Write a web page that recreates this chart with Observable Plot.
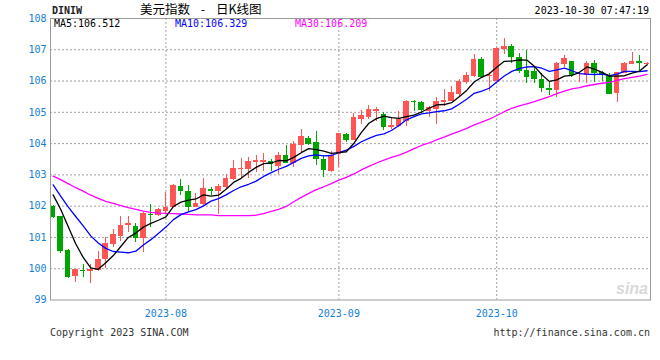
<!DOCTYPE html>
<html><head><meta charset="utf-8">
<script src="https://cdn.jsdelivr.net/npm/d3@7"></script>
<script src="https://cdn.jsdelivr.net/npm/@observablehq/plot@0.6"></script>
<style>
body{margin:0;background:#fff;}
#wrap{position:relative;width:660px;height:360px;overflow:hidden;font-family:"DejaVu Sans Mono",monospace;}
#wrap svg{position:absolute;left:0;top:0;}
.t{position:absolute;white-space:nowrap;font-size:10px;line-height:12px;}
</style></head><body><div id="wrap"></div>
<script>
const dates = [
"2023-07-11","2023-07-12","2023-07-13","2023-07-14","2023-07-17","2023-07-18","2023-07-19","2023-07-20","2023-07-21","2023-07-24","2023-07-25","2023-07-26","2023-07-27","2023-07-28","2023-07-31",
"2023-08-01","2023-08-02","2023-08-03","2023-08-04","2023-08-07","2023-08-08","2023-08-09","2023-08-10","2023-08-11","2023-08-14","2023-08-15","2023-08-16","2023-08-17","2023-08-18","2023-08-21","2023-08-22","2023-08-23","2023-08-24","2023-08-25","2023-08-28","2023-08-29","2023-08-30","2023-08-31",
"2023-09-01","2023-09-04","2023-09-05","2023-09-06","2023-09-07","2023-09-08","2023-09-11","2023-09-12","2023-09-13","2023-09-14","2023-09-15","2023-09-18","2023-09-19","2023-09-20","2023-09-21","2023-09-22","2023-09-25","2023-09-26","2023-09-27","2023-09-28","2023-09-29",
"2023-10-02","2023-10-03","2023-10-04","2023-10-05","2023-10-06","2023-10-09","2023-10-10","2023-10-11","2023-10-12","2023-10-13","2023-10-16","2023-10-17","2023-10-18","2023-10-19","2023-10-20","2023-10-23","2023-10-24","2023-10-25","2023-10-26","2023-10-27","2023-10-30"];
const open = [102.00,101.66,100.57,99.74,99.95,99.90,99.93,100.28,100.78,101.03,101.38,101.34,100.97,101.73,101.69,101.83,101.97,102.64,102.47,101.97,102.04,102.53,102.47,102.61,102.84,103.17,103.18,103.41,103.41,103.43,103.28,103.63,103.38,103.95,104.17,104.03,103.50,103.12,103.66,104.28,104.11,104.78,104.84,105.04,104.92,104.52,104.55,104.71,105.36,105.30,105.03,105.09,105.30,105.36,105.57,105.95,106.14,106.69,106.14,106.00,107.02,107.11,106.76,106.33,106.30,106.06,105.77,105.69,106.53,106.62,106.20,106.17,106.55,106.26,106.14,105.60,106.25,106.53,106.62,106.52];
const high = [102.03,101.68,100.60,99.99,100.14,100.13,100.55,101.00,101.24,101.67,101.66,101.45,101.80,102.06,101.94,102.44,102.68,102.84,102.66,102.40,102.88,102.61,102.68,103.00,103.47,103.52,103.54,103.63,103.68,103.50,103.71,103.95,104.06,104.46,104.22,104.38,103.63,103.74,104.33,104.33,104.96,105.06,105.22,105.14,104.98,104.82,105.03,105.38,105.39,105.36,105.19,105.46,105.74,105.84,106.06,106.28,106.85,106.76,106.28,107.06,107.36,107.17,106.89,106.98,106.42,106.23,105.99,106.60,106.82,106.63,106.28,106.63,106.66,106.31,106.23,106.28,106.60,106.92,106.82,106.60];
const low = [101.62,100.49,99.70,99.56,99.72,99.53,99.90,100.00,100.69,100.86,101.16,100.85,100.52,101.32,101.67,101.76,101.95,102.34,101.81,101.96,102.02,102.34,101.73,102.56,102.82,102.88,102.90,103.07,103.11,103.11,103.00,103.36,103.25,103.68,103.95,103.30,102.92,103.09,103.25,104.03,104.09,104.60,104.78,104.71,104.42,104.46,104.53,104.55,105.03,104.95,104.82,104.62,105.19,105.34,105.52,105.90,106.11,106.09,105.68,105.98,106.85,106.55,106.24,105.92,105.92,105.63,105.53,105.49,106.42,106.12,105.96,105.92,105.96,106.00,105.56,105.33,106.23,106.52,106.28,106.50];
const close = [101.64,100.55,99.72,99.98,99.92,99.97,100.29,100.81,101.09,101.37,101.43,100.98,101.77,101.69,101.88,101.97,102.66,102.47,101.97,102.10,102.58,102.47,102.64,102.90,103.20,103.22,103.43,103.47,103.46,103.33,103.63,103.38,103.98,104.22,103.98,103.49,103.14,103.63,104.31,104.11,104.84,104.89,105.09,105.08,104.52,104.57,104.78,105.36,105.31,105.05,105.14,105.34,105.39,105.63,105.98,106.17,106.69,106.11,106.19,107.03,107.11,106.76,106.31,106.12,106.06,105.76,105.69,106.57,106.71,106.19,106.23,106.55,106.23,106.20,105.58,106.26,106.57,106.62,106.57,106.56];
const ma5 = [102.36,101.90,101.35,100.80,100.36,100.03,99.98,100.19,100.42,100.71,101.00,101.14,101.33,101.45,101.55,101.66,101.99,102.13,102.19,102.23,102.36,102.32,102.35,102.54,102.76,102.89,103.08,103.24,103.36,103.38,103.46,103.45,103.56,103.71,103.84,103.81,103.76,103.69,103.71,103.74,104.01,104.36,104.65,104.80,104.88,104.83,104.81,104.86,104.91,105.01,105.13,105.24,105.25,105.31,105.50,105.70,105.97,106.12,106.23,106.44,106.63,106.64,106.68,106.67,106.47,106.20,105.99,106.04,106.16,106.18,106.28,106.45,106.38,106.28,106.16,106.16,106.17,106.25,106.32,106.52];
const ma10 = [102.68,102.32,101.98,101.67,101.37,101.05,100.82,100.65,100.55,100.53,100.51,100.56,100.76,100.93,101.13,101.33,101.57,101.73,101.82,101.89,102.01,102.16,102.24,102.36,102.50,102.62,102.70,102.80,102.95,103.07,103.18,103.27,103.40,103.53,103.61,103.64,103.61,103.62,103.71,103.79,103.91,104.06,104.17,104.26,104.31,104.42,104.58,104.76,104.86,104.95,104.98,105.02,105.05,105.11,105.26,105.42,105.61,105.68,105.77,105.97,106.16,106.31,106.40,106.45,106.46,106.41,106.31,106.36,106.41,106.33,106.24,106.22,106.21,106.22,106.17,106.22,106.31,106.31,106.30,106.33];
const ma30 = [102.96,102.85,102.72,102.59,102.48,102.35,102.25,102.15,102.09,102.02,101.95,101.90,101.84,101.80,101.78,101.77,101.76,101.75,101.74,101.72,101.72,101.72,101.70,101.70,101.70,101.70,101.70,101.71,101.76,101.83,101.90,101.99,102.14,102.28,102.41,102.53,102.62,102.72,102.83,102.92,103.03,103.16,103.27,103.38,103.47,103.56,103.63,103.73,103.84,103.94,104.02,104.12,104.21,104.30,104.39,104.49,104.60,104.69,104.78,104.90,105.02,105.13,105.21,105.27,105.34,105.42,105.50,105.60,105.68,105.75,105.79,105.85,105.89,105.93,105.96,106.02,106.08,106.12,106.16,106.21];
const yTicks = [99,100,101,102,103,104,105,106,107,108];
const yGrid = [100,101,102,103,104,105,106,107];
const monthStarts = ["2023-08-01","2023-09-01","2023-10-02"];
const legendLabels = ["MA5:106.512","MA10:106.329","MA30:106.209"];

const UP = "#ff5555", DOWN = "#00a600", BLUE = "#1580d8";
const MA_COLORS = ["#000000","#0000ff","#ff00ff"];

const data = dates.map((d, i) => ({
  i, date: d, open: open[i], high: high[i], low: low[i], close: close[i],
  ma5: ma5[i], ma10: ma10[i], ma30: ma30[i],
  dir: close[i] >= open[i] ? "up" : "down"
}));
const monthIdx = monthStarts.map(m => dates.indexOf(m));

const chart = Plot.plot({
  width: 660, height: 360,
  marginTop: 18, marginBottom: 60.5, marginLeft: 50, marginRight: 10,
  style: {fontFamily: "DejaVu Sans Mono, monospace", fontSize: "10px", background: "transparent"},
  x: {type: "linear", domain: [-0.35, 79.45]},
  y: {domain: [99, 108]},
  color: {domain: ["up", "down"], range: [UP, DOWN]},
  marks: [
    Plot.gridY(yGrid, {stroke: "#a0a0a0", strokeOpacity: 1, strokeDasharray: "2,2"}),
    Plot.gridX(monthIdx, {stroke: "#a0a0a0", strokeOpacity: 1, strokeDasharray: "2,2"}),
    Plot.axisY(yTicks, {tickSize: 0, tickPadding: 4, fill: BLUE, label: null, tickFormat: d => String(d)}),
    Plot.axisX(monthIdx, {tickSize: 0, tickPadding: 10, fill: BLUE, label: null, tickFormat: i => dates[i].slice(0, 7)}),
    Plot.ruleX(data, {x: "i", y1: "low", y2: "high", stroke: "dir", strokeWidth: 1, shapeRendering: "crispEdges"}),
    Plot.rect(data, {x1: d => d.i - 0.37, x2: d => d.i + 0.37, y1: "open", y2: "close", fill: "dir", shapeRendering: "crispEdges"}),
    Plot.line(data, {x: "i", y: "ma30", stroke: MA_COLORS[2], strokeWidth: 1.3}),
    Plot.line(data, {x: "i", y: "ma10", stroke: MA_COLORS[1], strokeWidth: 1.3}),
    Plot.line(data, {x: "i", y: "ma5", stroke: MA_COLORS[0], strokeWidth: 1.3}),
    Plot.frame({stroke: "#9a9a9a"})
  ]
});
const wrap = document.getElementById("wrap");
wrap.appendChild(chart);

function addText(txt, css) {
  const el = document.createElement("div");
  el.className = "t";
  el.textContent = txt;
  Object.assign(el.style, css);
  wrap.appendChild(el);
  return el;
}
addText("DINIW", {left: "52px", top: "5px", fontWeight: "bold", color: "#222"});
addText("美元指数 - 日K线图", {left: "140px", top: "1px", fontFamily: "'Noto Sans CJK SC', sans-serif", fontSize: "12.5px", lineHeight: "16px", wordSpacing: "8px", color: "#000"});
addText("2023-10-30 07:47:19", {right: "11px", top: "5px", color: "#000"});
addText(legendLabels[0], {left: "54px", top: "18px", color: MA_COLORS[0]});
addText(legendLabels[1], {left: "175px", top: "18px", color: MA_COLORS[1]});
addText(legendLabels[2], {left: "295px", top: "18px", color: MA_COLORS[2]});
addText("Copyright 2023 SINA.COM", {left: "50px", top: "327px", color: "#333"});
addText("http://finance.sina.com.cn", {right: "10px", top: "327px", color: "#333"});
addText("sina", {right: "12px", top: "280px", fontFamily: "'Liberation Sans', sans-serif", fontStyle: "italic", fontWeight: "bold", fontSize: "16px", lineHeight: "18px", color: "#d9d9d9"});
</script></body></html>
